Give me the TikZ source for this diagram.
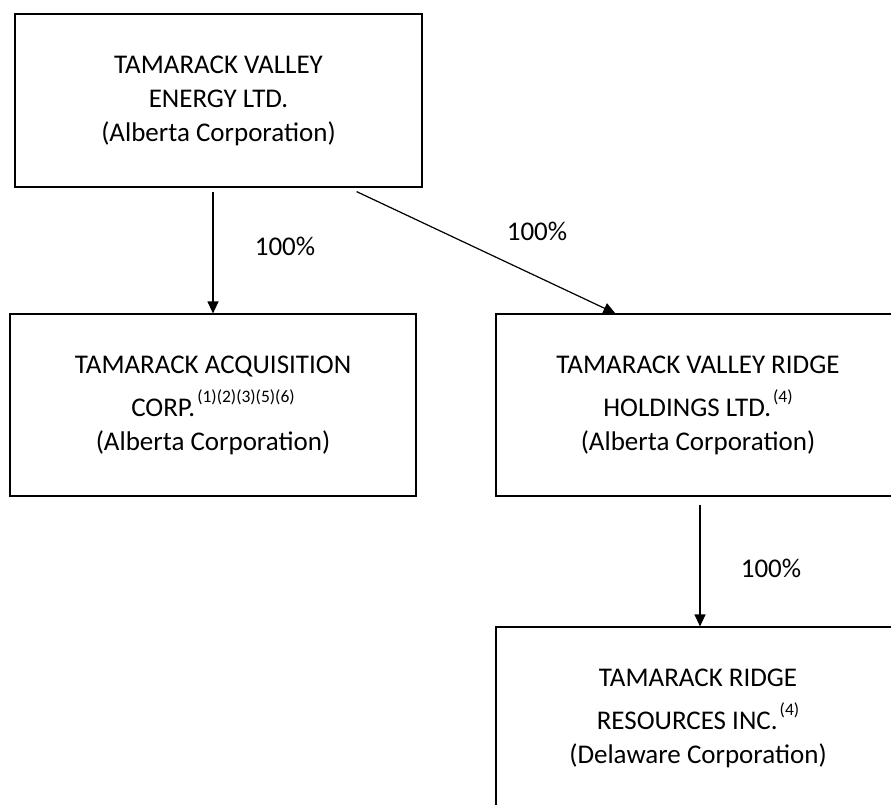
\documentclass[tikz,border=0pt]{standalone}
\usepackage{fontspec}
\setmainfont{Carlito}
\usetikzlibrary{arrows.meta, calc}

\newcommand{\notes}[1]{\kern2pt\raisebox{14pt}{\fontsize{17.5}{17.5}\selectfont #1}}

\begin{document}
\begin{tikzpicture}[
        x=1pt, y=-1pt,
        every node/.style={font=\fontsize{27}{34}\selectfont},
        entity/.style={draw, line width=1.2pt, align=center, inner sep=0pt,
            minimum width=406pt, minimum height=182pt},
        own/.style={->, line width=1.2pt},
        >={Triangle[length=12pt, width=11pt]}
    ]
\useasboundingbox (0,0) rectangle (891,804);

% ---------- companies ----------
\node[entity, minimum width=407pt, minimum height=173pt] (tve) at (218.5,100.5)
    {TAMARACK VALLEY\\ENERGY LTD.\\(Alberta Corporation)};
\node[entity] (tac) at (213,405)
    {TAMARACK ACQUISITION\\[9pt]CORP.\notes{(1)(2)(3)(5)(6)}\\(Alberta Corporation)};
\node[entity, minimum width=404pt] (tvr) at (698,405)
    {TAMARACK VALLEY RIDGE\\[9pt]HOLDINGS LTD.\notes{(4)}\\(Alberta Corporation)};
\node[entity, minimum width=404pt] (trr) at (698,718)
    {TAMARACK RIDGE\\[9pt]RESOURCES INC.\notes{(4)}\\(Delaware Corporation)};

% ---------- ownership arrows ----------
\draw[own, shorten <=4pt] (tve.south -| tac.north) -- (tac.north);
\draw[own] ($(tve.south east)+(-66,4)$) -- ($(tvr.north west)+(120,0)$);
\draw[own, shorten <=8pt] ($(tvr.south)+(2,0)$) -- ($(trr.north)+(2,0)$);

\node (p1) at (285,246) {100\%};
\node (p2) at (537,231) {100\%};
\node (p3) at (771,568) {100\%};

\end{tikzpicture}
\end{document}
